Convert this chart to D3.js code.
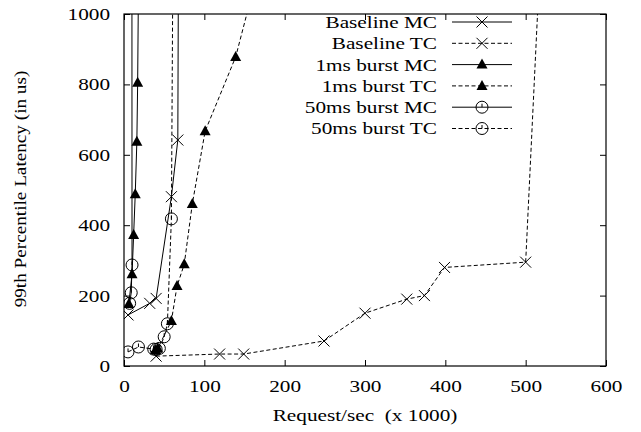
<!DOCTYPE html>
<html>
<head>
<meta charset="utf-8">
<script src="https://cdn.jsdelivr.net/npm/d3@7"></script>
<style>
  body { margin: 0; background: #fff; }
</style>
</head>
<body>
<div id="chart"></div>
<script>
width = 641
height = 432

// data: [requests/sec (x1000), 99th percentile latency (us)]
baselineMC = [[5, 145], [32, 178], [40, 192], [59, 481], [67, 642], [68, 1300]]
baselineTC = [[40, 28], [119, 34], [149, 34], [249, 71], [300, 150], [352, 190], [374, 200], [399, 280], [500, 295], [520, 1250]]
burst1MC = [[6, 176], [10, 261], [12, 372], [14, 488], [16, 637], [17, 805], [18.4, 1200]]
burst1TC = [[39, 45], [42, 50], [59, 128], [66, 227], [75, 289], [85, 460], [101, 667], [139, 878], [170, 1150]]
burst50MC = [[7, 178], [9, 208], [10, 287], [9.8, 1500]]
burst50TC = [[5, 40], [18, 54], [37, 48], [40, 47], [44, 50], [50, 83], [54, 120], [59, 418], [61, 1200]]

seriesNames = ["Baseline MC", "Baseline TC", "1ms burst MC", "1ms burst TC", "50ms burst MC", "50ms burst TC"]
seriesData = [baselineMC, baselineTC, burst1MC, burst1TC, burst50MC, burst50TC]
seriesMarks = ["cross", "cross", "triangle", "triangle", "circle", "circle"]
seriesDashed = [false, true, false, true, false, true]

xTicks = [0, 100, 200, 300, 400, 500, 600]
yTicks = [0, 200, 400, 600, 800, 1000]

// the original's lettering is wider than it is tall
STRETCH = 1.25
FS = 17

let margin = {left: 124, right: 35, top: 14, bottom: 66}

let svg = d3.select("#chart")
  .append("svg")
  .attr("width", width)
  .attr("height", height)
  .attr("font-family", "Liberation Serif, serif")

let x = d3.scaleLinear().domain([0, 600]).range([margin.left, width - margin.right])
let y = d3.scaleLinear().domain([0, 1000]).range([height - margin.bottom, margin.top])

svg.append("clipPath").attr("id", "plot-clip")
  .append("rect")
  .attr("x", margin.left).attr("y", margin.top)
  .attr("width", x(600) - x(0)).attr("height", y(0) - y(1000))

// inward ticks on all four sides
let xAxis = svg.append("g")
  .attr("transform", `translate(0, ${y(0)})`)
  .call(d3.axisBottom(x).tickValues(xTicks).tickSize(-6).tickPadding(14).tickFormat(d3.format("d")))
let yAxis = svg.append("g")
  .attr("transform", `translate(${x(0)}, 0)`)
  .call(d3.axisLeft(y).tickValues(yTicks).tickSize(-6).tickFormat(d3.format("d")))
let axes = [
  xAxis, yAxis,
  svg.append("g")
    .attr("transform", `translate(0, ${y(1000)})`)
    .call(d3.axisTop(x).tickValues(xTicks).tickSize(-6).tickFormat("")),
  svg.append("g")
    .attr("transform", `translate(${x(600)}, 0)`)
    .call(d3.axisRight(y).tickValues(yTicks).tickSize(-6).tickFormat(""))
]
axes.forEach(g => {
  g.attr("font-family", null).attr("font-size", FS)
  g.select(".domain").remove()
})

svg.selectAll(".tick line").attr("stroke", "#000")
svg.selectAll(".tick text").attr("fill", "#000").attr("transform", `scale(${STRETCH},1)`)
yAxis.selectAll(".tick text").attr("x", -14 / STRETCH)

svg.append("rect")
  .attr("x", x(0)).attr("y", y(1000))
  .attr("width", x(600) - x(0)).attr("height", y(0) - y(1000))
  .attr("fill", "none").attr("stroke", "#000").attr("stroke-width", 1.2)

svg.append("text")
  .attr("transform", `translate(${(x(0) + x(600)) / 2}, 421) scale(${STRETCH},1)`)
  .attr("text-anchor", "middle")
  .attr("font-size", FS)
  .style("white-space", "pre")
  .text("Request/sec  (x 1000)")

svg.append("text")
  .attr("transform", `translate(26, ${(y(0) + y(1000)) / 2 - 1}) rotate(-90) scale(1.13,1)`)
  .attr("text-anchor", "middle")
  .attr("font-size", FS)
  .text("99th Percentile Latency (in us)")

function drawMark(g, kind) {
  if (kind == "cross") {
    g.append("path").attr("d", "M-5.5,-5.5L5.5,5.5M-5.5,5.5L5.5,-5.5")
      .attr("stroke", "#000").attr("fill", "none")
  } else if (kind == "triangle") {
    g.append("path").attr("d", "M0,-6L5.5,4L-5.5,4Z").attr("fill", "#000")
  } else {
    g.append("circle").attr("r", 6).attr("fill", "none").attr("stroke", "#000")
    g.append("path").attr("d", "M0,0L0,-3.5").attr("stroke", "#000")
  }
}

let line = d3.line().x(d => x(d[0])).y(d => y(d[1]))

let plot = svg.append("g").attr("clip-path", "url(#plot-clip)")

seriesData.forEach(function(data, i) {
  plot.append("path")
    .datum(data)
    .attr("d", line)
    .attr("fill", "none")
    .attr("stroke", "#000")
    .attr("stroke-width", 1)
    .attr("stroke-dasharray", seriesDashed[i] ? "4,2.5" : null)

  plot.selectAll(null)
    .data(data.filter(d => d[1] <= 1000))
    .enter().append("g")
    .attr("transform", d => `translate(${x(d[0])}, ${y(d[1])})`)
    .each(function() { drawMark(d3.select(this), seriesMarks[i]) })
})

// legend
let legend = svg.append("g")
seriesNames.forEach(function(name, i) {
  let ly = 22 + i * 21.3
  legend.append("text")
    .attr("transform", `translate(437, ${ly}) scale(${STRETCH},1)`)
    .attr("dy", "0.35em")
    .attr("text-anchor", "end")
    .attr("font-size", FS)
    .text(name)
  legend.append("line")
    .attr("x1", 452).attr("x2", 512)
    .attr("y1", ly).attr("y2", ly)
    .attr("stroke", "#000")
    .attr("stroke-dasharray", seriesDashed[i] ? "4,2.5" : null)
  let m = legend.append("g").attr("transform", `translate(482, ${ly})`)
  drawMark(m, seriesMarks[i])
})
</script>
</body>
</html>
